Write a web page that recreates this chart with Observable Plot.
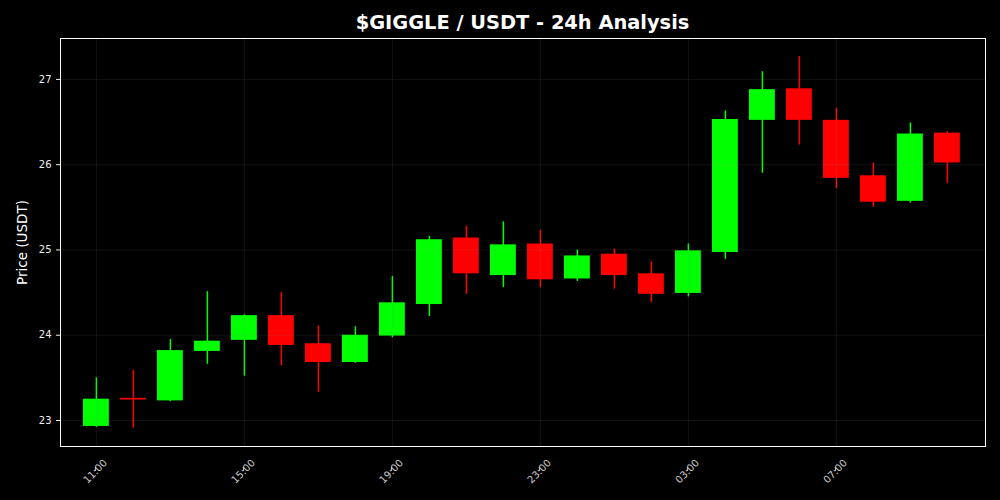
<!DOCTYPE html>
<html>
<head>
<meta charset="utf-8">
<script src="https://cdn.jsdelivr.net/npm/d3@7"></script>
<script src="https://cdn.jsdelivr.net/npm/@observablehq/plot@0.6"></script>
<style>
  html, body { margin: 0; padding: 0; background: #000; }
  #title { width: 1000px; height: 30px; box-sizing: border-box; padding-left: 45px; padding-top: 14px;
    text-align: center; color: #fff; font-family: "DejaVu Sans", sans-serif; font-weight: bold; font-size: 19.4px; line-height: 18px; white-space: nowrap; }
  #chart svg { display: block; }
</style>
</head>
<body>
<div id="title">$GIGGLE / USDT - 24h Analysis</div>
<div id="chart"></div>
<script>
const times = ["11:00","12:00","13:00","14:00","15:00","16:00","17:00","18:00","19:00","20:00","21:00","22:00",
               "23:00","00:00","01:00","02:00","03:00","04:00","05:00","06:00","07:00","08:00","09:00","10:00"];
const open  = [22.93,23.26,23.23,23.81,23.94,24.23,23.90,23.68,23.99,24.36,25.14,24.70,
               25.07,24.66,24.95,24.72,24.49,24.97,26.52,26.89,26.52,25.87,25.57,26.37];
const high  = [23.50,23.59,23.95,24.51,24.24,24.50,24.11,24.10,24.69,25.16,25.28,25.33,
               25.23,25.00,25.01,24.86,25.07,26.63,27.09,27.27,26.66,26.02,26.49,26.39];
const low   = [22.92,22.91,23.22,23.66,23.52,23.64,23.33,23.67,23.97,24.22,24.48,24.56,
               24.56,24.63,24.54,24.38,24.45,24.89,25.90,26.23,25.72,25.50,25.55,25.78];
const close = [23.25,23.24,23.82,23.93,24.23,23.88,23.68,24.00,24.38,25.12,24.72,25.06,
               24.65,24.93,24.70,24.48,24.99,26.53,26.88,26.52,25.84,25.56,26.36,26.02];
const xTicks = [0, 4, 8, 12, 16, 20];
const yTicks = [23, 24, 25, 26, 27];

const data = times.map((t, i) => ({i, t, o: open[i], h: high[i], l: low[i], c: close[i]}));
const col = d => d.c >= d.o ? "#00ff00" : "#ff0000";

const chart = Plot.plot({
  width: 1000,
  height: 470,
  marginTop: 8,
  marginBottom: 54,
  marginLeft: 60,
  marginRight: 15,
  style: {background: "#000", color: "#fff", fontFamily: "DejaVu Sans, sans-serif"},
  x: {type: "linear", domain: [-0.97, 24.03]},
  y: {domain: [22.695, 27.48]},
  marks: [
    Plot.ruleX(data, {x: "i", y1: "l", y2: "h", stroke: col, strokeWidth: 1.5}),
    Plot.rect(data, {x1: d => d.i - 0.35, x2: d => d.i + 0.35,
      y1: d => Math.min(d.o, d.c), y2: d => Math.max(d.o, d.c), fill: col}),
    Plot.gridX(xTicks, {stroke: "#888", strokeOpacity: 0.18, strokeWidth: 0.8}),
    Plot.gridY(yTicks, {stroke: "#888", strokeOpacity: 0.18, strokeWidth: 0.8}),
    Plot.axisY(yTicks, {tickFormat: d => String(d), tickSize: 4, fontSize: 10, color: "#eee", label: null, tickPadding: 5}),
    Plot.axisX(xTicks, {tickFormat: i => times[i], tickSize: 4, fontSize: 10, color: "#ccc", label: null,
      tickRotate: -45, textAnchor: "middle", lineAnchor: "middle", tickPadding: 0, dy: 21, dx: -1}),
    Plot.frame({stroke: "#fff", strokeWidth: 1}),
    Plot.text(["Price (USDT)"], {frameAnchor: "left", dx: -38, rotate: -90, fill: "#fff", fontSize: 13.5,
      textAnchor: "middle", lineAnchor: "middle"})
  ]
});
document.getElementById("chart").appendChild(chart);
</script>
</body>
</html>
